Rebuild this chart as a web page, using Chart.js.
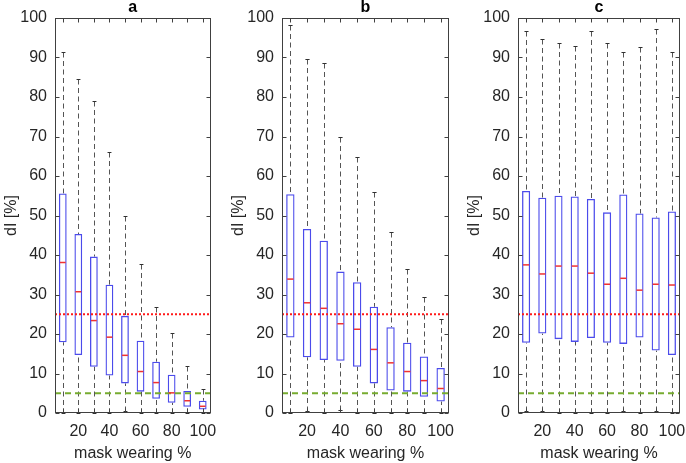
<!DOCTYPE html>
<html>
<head>
<meta charset="utf-8">
<script src="https://cdn.jsdelivr.net/npm/chart.js@4"></script>
<style>
  html, body { margin: 0; padding: 0; background: #fff; }
  #wrap { position: relative; width: 686px; height: 463px; overflow: hidden; }
  canvas { position: absolute; top: 0; }
</style>
</head>
<body>
<div id="wrap">
  <canvas id="panelA" width="220" height="463" style="left:0px"></canvas>
  <canvas id="panelB" width="228" height="463" style="left:227px"></canvas>
  <canvas id="panelC" width="223" height="463" style="left:463px"></canvas>
</div>
<script>
// mask wearing levels (x categories) and the labels shown under the axis
let categories = ['10', '20', '30', '40', '50', '60', '70', '80', '90', '100'];
let shownTicks = ['20', '40', '60', '80', '100'];

// reference lines
let upperLine = 25;
let lowerLine = 5;

// panel a
let aMin = [0, 0, 0, 0, 0.6, 0, 0, 0, 0, 0];
let aQ1  = [17.9, 14.7, 11.7, 9.5, 7.5, 5.4, 3.6, 2.6, 1.6, 0.9];
let aMed = [38.1, 30.7, 23.4, 19.2, 14.6, 10.5, 7.7, 5.1, 3.1, 1.7];
let aQ3  = [55.6, 45.3, 39.6, 32.5, 24.6, 18.3, 13.0, 9.7, 5.6, 3.1];
let aMax = [91.5, 84.6, 79.0, 66.2, 50.0, 37.6, 26.9, 20.3, 12.0, 6.2];

// panel b
let bMin = [0, 0.5, 0, 0.8, 0, 0, 0, 0, 0, 0];
let bQ1  = [19.1, 14.1, 13.4, 13.2, 11.7, 7.5, 5.7, 5.4, 4.1, 2.9];
let bMed = [33.9, 27.9, 26.5, 22.6, 21.2, 16.1, 12.7, 10.5, 8.2, 6.2];
let bQ3  = [55.4, 46.6, 43.6, 35.8, 33.1, 26.9, 21.7, 17.8, 14.3, 11.4];
let bMax = [98.2, 89.6, 88.7, 69.8, 64.7, 55.9, 45.7, 36.5, 29.4, 23.8];

// panel c
let cMin = [0.4, 0.4, 0, 0, 0, 0, 0.4, 0, 0.4, 0];
let cQ1  = [17.8, 20.1, 18.7, 18.0, 19.0, 17.8, 17.5, 19.1, 15.8, 14.7];
let cMed = [37.5, 35.2, 37.2, 37.2, 35.4, 32.6, 34.1, 31.1, 32.6, 32.4];
let cQ3  = [56.2, 54.5, 55.0, 54.8, 54.2, 50.8, 55.3, 50.5, 49.5, 51.0];
let cMax = [96.8, 94.8, 93.6, 92.9, 96.8, 93.6, 91.3, 92.7, 97.3, 91.5];

let fontFamily = '"Liberation Sans", Arial, Helvetica, sans-serif';
let axisColor = '#404040';
let textColor = '#262626';

// whiskers, medians, threshold lines and the MATLAB-like box frame
const boxPlot = {
  id: 'boxPlot',
  beforeDatasetsDraw(chart) {
    const ctx = chart.ctx;
    const y = chart.scales.y;
    const ds = chart.data.datasets[0];
    const meta = chart.getDatasetMeta(0);
    ctx.save();
    ctx.lineWidth = 1;
    meta.data.forEach((bar, i) => {
      const x = Math.round(bar.x) + 0.5;
      const yLo = y.getPixelForValue(ds.data[i][0]);
      const yHi = y.getPixelForValue(ds.data[i][1]);
      const yMin = Math.round(y.getPixelForValue(ds.lowest[i])) + 0.5;
      const yMax = Math.round(y.getPixelForValue(ds.highest[i])) + 0.5;
      ctx.strokeStyle = '#555';
      ctx.setLineDash([5, 3.5]);
      ctx.beginPath();
      ctx.moveTo(x, yMax); ctx.lineTo(x, yHi);
      ctx.stroke();
      ctx.beginPath();
      ctx.moveTo(x, yMin); ctx.lineTo(x, yLo);
      ctx.stroke();
      ctx.setLineDash([]);
      const cap = bar.width / 4;
      ctx.strokeStyle = '#303030';
      ctx.beginPath();
      ctx.moveTo(x - cap, yMax); ctx.lineTo(x + cap, yMax);
      ctx.moveTo(x - cap, yMin); ctx.lineTo(x + cap, yMin);
      ctx.stroke();
    });
    ctx.restore();
  },
  afterDatasetsDraw(chart) {
    const ctx = chart.ctx;
    const {x, y} = chart.scales;
    const area = chart.chartArea;
    const ds = chart.data.datasets[0];
    const meta = chart.getDatasetMeta(0);
    ctx.save();

    // threshold lines
    ctx.lineWidth = 2;
    ctx.strokeStyle = '#ff1a1a';
    ctx.setLineDash([2, 2]);
    let yy = y.getPixelForValue(upperLine);
    ctx.beginPath(); ctx.moveTo(area.left, yy); ctx.lineTo(area.right, yy); ctx.stroke();
    ctx.strokeStyle = '#77ac30';
    ctx.setLineDash([6, 4]);
    yy = y.getPixelForValue(lowerLine);
    ctx.beginPath(); ctx.moveTo(area.left, yy); ctx.lineTo(area.right, yy); ctx.stroke();
    ctx.setLineDash([]);

    // medians
    ctx.lineWidth = 1.5;
    ctx.strokeStyle = 'rgb(240,50,50)';
    meta.data.forEach((bar, i) => {
      const ym = y.getPixelForValue(ds.median[i]);
      ctx.beginPath();
      ctx.moveTo(bar.x - bar.width / 2 + 1, ym);
      ctx.lineTo(bar.x + bar.width / 2 - 1, ym);
      ctx.stroke();
    });

    // frame and inward ticks
    ctx.lineWidth = 1;
    const L = Math.round(area.left) + 0.5, R = Math.round(area.right) - 0.5;
    const T = Math.round(area.top) + 0.5, B = Math.round(area.bottom) - 0.5;
    ctx.strokeStyle = axisColor;
    ctx.strokeRect(L, T, R - L, B - T);
    const tl = 4;
    ctx.beginPath();
    x.ticks.forEach((t, i) => {
      const px = Math.round(x.getPixelForTick(i)) + 0.5;
      ctx.moveTo(px, B); ctx.lineTo(px, B - tl);
      ctx.moveTo(px, T); ctx.lineTo(px, T + tl);
    });
    y.ticks.forEach((t, i) => {
      const py = Math.round(y.getPixelForTick(i)) + 0.5;
      ctx.moveTo(L, py); ctx.lineTo(L + tl, py);
      ctx.moveTo(R, py); ctx.lineTo(R - tl, py);
    });
    ctx.stroke();
    ctx.restore();
  }
};

function makePanel(id, title, mins, q1, med, q3, maxs, padRight) {
  let el = document.getElementById(id).getContext('2d');
  return new Chart(el, {
    type: 'bar',
    data: {
      labels: categories,
      datasets: [{
        data: q1.map((v, i) => [v, q3[i]]),
        lowest: mins,
        highest: maxs,
        median: med,
        backgroundColor: 'rgba(0,0,0,0)',
        borderColor: 'rgb(75,75,235)',
        borderWidth: 1.3,
        borderSkipped: false,
        barPercentage: 0.5,
        categoryPercentage: 1
      }]
    },
    options: {
      responsive: false,
      animation: false,
      events: [],
      layout: { padding: { left: 0, right: padRight, top: 0, bottom: 0 } },
      plugins: {
        legend: { display: false },
        tooltip: { enabled: false },
        title: {
          display: true,
          text: title,
          fullSize: false,
          color: '#000',
          font: { family: fontFamily, size: 16, weight: 'bold', lineHeight: 1 },
          padding: { top: 0, bottom: 2 }
        }
      },
      scales: {
        x: {
          type: 'category',
          offset: true,
          grid: { display: false, drawTicks: false, offset: false },
          border: { display: false },
          ticks: {
            autoSkip: false,
            maxRotation: 0,
            padding: 9,
            color: textColor,
            font: { family: fontFamily, size: 16 },
            callback: function (v, i) {
              let lab = this.getLabelForValue(v);
              return shownTicks.includes(lab) ? lab : '';
            }
          },
          title: {
            display: true,
            text: 'mask wearing %',
            color: textColor,
            font: { family: fontFamily, size: 16 },
            padding: { top: 0, bottom: 0 }
          },
          afterFit: s => { s.height = 50; s.paddingLeft = 0; s.paddingRight = 0; }
        },
        y: {
          min: 0,
          max: 100,
          grid: { display: false, drawTicks: false },
          border: { display: false },
          ticks: {
            stepSize: 10,
            padding: 8,
            color: textColor,
            font: { family: fontFamily, size: 16 }
          },
          title: {
            display: true,
            text: 'dI [%]',
            color: textColor,
            font: { family: fontFamily, size: 16 },
            padding: { top: 2, bottom: 0 }
          },
          afterFit: s => { s.width = 55; s.paddingTop = 0; s.paddingBottom = 0; }
        }
      }
    },
    plugins: [boxPlot]
  });
}

let chartA = makePanel('panelA', 'a', aMin, aQ1, aMed, aQ3, aMax, 9.5);
let chartB = makePanel('panelB', 'b', bMin, bQ1, bMed, bQ3, bMax, 6);
let chartC = makePanel('panelC', 'c', cMin, cQ1, cMed, cQ3, cMax, 6);
</script>
</body>
</html>
